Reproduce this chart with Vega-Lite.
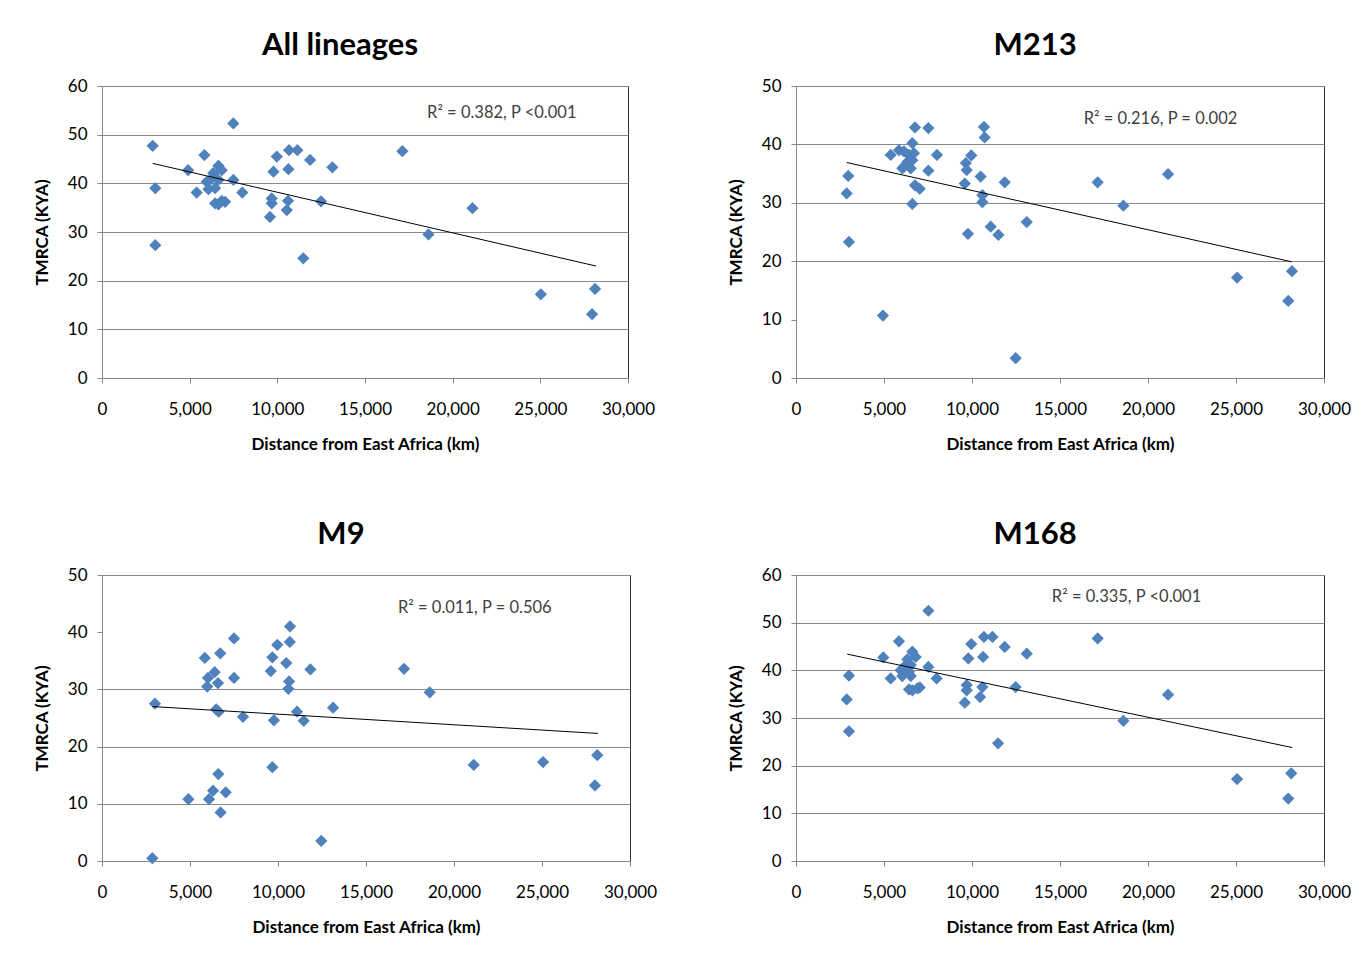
{
  "$schema": "https://vega.github.io/schema/vega-lite/v6.json",
  "background": "white",
  "padding": {"left": 32, "top": 29, "right": 5, "bottom": 5},
  "datasets": {
    "all": [
      {"distance": 2890, "tmrca": 47.7}, {"distance": 3040, "tmrca": 39.0}, {"distance": 3040, "tmrca": 27.3},
      {"distance": 7490, "tmrca": 52.3}, {"distance": 5840, "tmrca": 45.8}, {"distance": 4910, "tmrca": 42.7},
      {"distance": 5400, "tmrca": 38.1}, {"distance": 6640, "tmrca": 43.6}, {"distance": 6830, "tmrca": 42.7},
      {"distance": 6350, "tmrca": 42.1}, {"distance": 6160, "tmrca": 40.7}, {"distance": 5970, "tmrca": 40.3},
      {"distance": 6640, "tmrca": 40.7}, {"distance": 6070, "tmrca": 38.8}, {"distance": 6450, "tmrca": 39.0},
      {"distance": 7490, "tmrca": 40.7}, {"distance": 8000, "tmrca": 38.1}, {"distance": 6450, "tmrca": 35.9},
      {"distance": 6830, "tmrca": 36.4}, {"distance": 7020, "tmrca": 36.2}, {"distance": 6640, "tmrca": 35.7},
      {"distance": 9970, "tmrca": 45.5}, {"distance": 9780, "tmrca": 42.4}, {"distance": 10670, "tmrca": 46.8},
      {"distance": 11140, "tmrca": 46.8}, {"distance": 11870, "tmrca": 44.8}, {"distance": 10630, "tmrca": 42.9},
      {"distance": 13140, "tmrca": 43.3}, {"distance": 9680, "tmrca": 36.9}, {"distance": 9680, "tmrca": 35.9},
      {"distance": 9580, "tmrca": 33.1}, {"distance": 10610, "tmrca": 36.4}, {"distance": 10540, "tmrca": 34.5},
      {"distance": 12490, "tmrca": 36.3}, {"distance": 11480, "tmrca": 24.6}, {"distance": 17130, "tmrca": 46.6},
      {"distance": 21130, "tmrca": 34.9}, {"distance": 18620, "tmrca": 29.5}, {"distance": 25030, "tmrca": 17.2},
      {"distance": 28120, "tmrca": 18.3}, {"distance": 27950, "tmrca": 13.1}
    ],
    "m213": [
      {"distance": 6760, "tmrca": 42.9}, {"distance": 7520, "tmrca": 42.8}, {"distance": 10680, "tmrca": 43.0},
      {"distance": 10720, "tmrca": 41.2}, {"distance": 6610, "tmrca": 40.2}, {"distance": 5380, "tmrca": 38.2},
      {"distance": 5850, "tmrca": 39.0}, {"distance": 6140, "tmrca": 38.8}, {"distance": 6420, "tmrca": 38.2},
      {"distance": 6700, "tmrca": 38.5}, {"distance": 6140, "tmrca": 36.2}, {"distance": 6520, "tmrca": 35.9},
      {"distance": 6040, "tmrca": 35.9}, {"distance": 6330, "tmrca": 37.0}, {"distance": 6610, "tmrca": 37.3},
      {"distance": 8010, "tmrca": 38.2}, {"distance": 7520, "tmrca": 35.5}, {"distance": 6760, "tmrca": 33.0},
      {"distance": 7030, "tmrca": 32.4}, {"distance": 6610, "tmrca": 29.8}, {"distance": 2970, "tmrca": 34.6},
      {"distance": 2880, "tmrca": 31.6}, {"distance": 3010, "tmrca": 23.3}, {"distance": 4940, "tmrca": 10.7},
      {"distance": 9960, "tmrca": 38.1}, {"distance": 9650, "tmrca": 36.8}, {"distance": 9700, "tmrca": 35.6},
      {"distance": 9590, "tmrca": 33.3}, {"distance": 10490, "tmrca": 34.5}, {"distance": 10590, "tmrca": 31.3},
      {"distance": 10590, "tmrca": 30.1}, {"distance": 11860, "tmrca": 33.5}, {"distance": 9770, "tmrca": 24.7},
      {"distance": 11060, "tmrca": 25.9}, {"distance": 11500, "tmrca": 24.5}, {"distance": 13110, "tmrca": 26.7},
      {"distance": 12480, "tmrca": 3.4}, {"distance": 17140, "tmrca": 33.5}, {"distance": 21140, "tmrca": 34.9},
      {"distance": 18600, "tmrca": 29.5}, {"distance": 25060, "tmrca": 17.2}, {"distance": 28180, "tmrca": 18.3},
      {"distance": 27970, "tmrca": 13.2}
    ],
    "m9": [
      {"distance": 3010, "tmrca": 27.5}, {"distance": 2860, "tmrca": 0.5}, {"distance": 4910, "tmrca": 10.8},
      {"distance": 5840, "tmrca": 35.5}, {"distance": 6720, "tmrca": 36.3}, {"distance": 7500, "tmrca": 38.9},
      {"distance": 6400, "tmrca": 33.0}, {"distance": 6020, "tmrca": 32.0}, {"distance": 6590, "tmrca": 31.1},
      {"distance": 5980, "tmrca": 30.5}, {"distance": 7500, "tmrca": 32.0}, {"distance": 6490, "tmrca": 26.5},
      {"distance": 6630, "tmrca": 26.1}, {"distance": 8010, "tmrca": 25.2}, {"distance": 6610, "tmrca": 15.2},
      {"distance": 6310, "tmrca": 12.3}, {"distance": 7030, "tmrca": 12.0}, {"distance": 6080, "tmrca": 10.8},
      {"distance": 6740, "tmrca": 8.5}, {"distance": 10680, "tmrca": 41.0}, {"distance": 9960, "tmrca": 37.8},
      {"distance": 10670, "tmrca": 38.3}, {"distance": 9680, "tmrca": 35.6}, {"distance": 10470, "tmrca": 34.6},
      {"distance": 9590, "tmrca": 33.2}, {"distance": 10630, "tmrca": 31.4}, {"distance": 10590, "tmrca": 30.1},
      {"distance": 11840, "tmrca": 33.5}, {"distance": 9770, "tmrca": 24.6}, {"distance": 11080, "tmrca": 26.1},
      {"distance": 11460, "tmrca": 24.5}, {"distance": 13130, "tmrca": 26.8}, {"distance": 9680, "tmrca": 16.4},
      {"distance": 12460, "tmrca": 3.5}, {"distance": 17160, "tmrca": 33.6}, {"distance": 18620, "tmrca": 29.5},
      {"distance": 21120, "tmrca": 16.8}, {"distance": 25060, "tmrca": 17.3}, {"distance": 28140, "tmrca": 18.5},
      {"distance": 28010, "tmrca": 13.2}
    ],
    "m168": [
      {"distance": 7520, "tmrca": 52.5}, {"distance": 5850, "tmrca": 46.1}, {"distance": 4960, "tmrca": 42.7},
      {"distance": 3010, "tmrca": 38.9}, {"distance": 2880, "tmrca": 33.9}, {"distance": 3010, "tmrca": 27.2},
      {"distance": 5380, "tmrca": 38.3}, {"distance": 6610, "tmrca": 43.9}, {"distance": 6800, "tmrca": 42.8},
      {"distance": 6330, "tmrca": 42.3}, {"distance": 6140, "tmrca": 40.7}, {"distance": 6520, "tmrca": 41.1},
      {"distance": 5950, "tmrca": 40.0}, {"distance": 6040, "tmrca": 38.8}, {"distance": 6520, "tmrca": 38.8},
      {"distance": 6420, "tmrca": 39.7}, {"distance": 7520, "tmrca": 40.7}, {"distance": 7990, "tmrca": 38.3},
      {"distance": 6420, "tmrca": 36.0}, {"distance": 6610, "tmrca": 35.8}, {"distance": 7030, "tmrca": 36.4},
      {"distance": 6890, "tmrca": 36.2}, {"distance": 9960, "tmrca": 45.5}, {"distance": 10680, "tmrca": 47.0},
      {"distance": 11160, "tmrca": 47.0}, {"distance": 11860, "tmrca": 44.9}, {"distance": 9790, "tmrca": 42.5},
      {"distance": 10630, "tmrca": 42.8}, {"distance": 13110, "tmrca": 43.5}, {"distance": 9700, "tmrca": 36.9},
      {"distance": 9700, "tmrca": 35.8}, {"distance": 9590, "tmrca": 33.2}, {"distance": 10590, "tmrca": 36.5},
      {"distance": 10460, "tmrca": 34.4}, {"distance": 12480, "tmrca": 36.5}, {"distance": 11480, "tmrca": 24.7},
      {"distance": 17140, "tmrca": 46.7}, {"distance": 21140, "tmrca": 34.9}, {"distance": 18600, "tmrca": 29.4},
      {"distance": 25060, "tmrca": 17.2}, {"distance": 28140, "tmrca": 18.4}, {"distance": 27970, "tmrca": 13.1}
    ],
    "all_trend": [{"distance": 2890, "tmrca": 44.1}, {"distance": 28180, "tmrca": 23.0}],
    "m213_trend": [{"distance": 2880, "tmrca": 36.9}, {"distance": 28160, "tmrca": 19.9}],
    "m9_trend": [{"distance": 2860, "tmrca": 27.0}, {"distance": 28180, "tmrca": 22.3}],
    "m168_trend": [{"distance": 2910, "tmrca": 43.4}, {"distance": 28200, "tmrca": 23.8}],
    "all_stat": [{"label": "R² = 0.382, P <0.001"}],
    "m213_stat": [{"label": "R² = 0.216, P = 0.002"}],
    "m9_stat": [{"label": "R² = 0.011, P = 0.506"}],
    "m168_stat": [{"label": "R² = 0.335, P <0.001"}]
  },
  "columns": 2,
  "spacing": {"row": 65, "column": 68},
  "concat": [
    {
      "title": {"text": "All lineages", "dx": -25},
      "width": 526, "height": 292,
      "layer": [
        {
          "data": {"name": "all"},
          "mark": {"type": "point", "shape": "diamond", "filled": true, "size": 150, "color": "#4F81BD", "opacity": 1},
          "encoding": {
            "x": {"field": "distance", "type": "quantitative", "scale": {"domain": [0, 30000], "nice": false}, "axis": {"values": [0, 5000, 10000, 15000, 20000, 25000, 30000], "labelExpr": "format(datum.value, ',')", "grid": false, "title": "Distance from East Africa (km)"}},
            "y": {"field": "tmrca", "type": "quantitative", "scale": {"domain": [0, 60], "nice": false}, "axis": {"values": [0, 10, 20, 30, 40, 50, 60], "title": "TMRCA (KYA)"}}
          }
        },
        {
          "data": {"name": "all_trend"},
          "mark": {"type": "line", "color": "black", "strokeWidth": 1},
          "encoding": {"x": {"field": "distance", "type": "quantitative"}, "y": {"field": "tmrca", "type": "quantitative"}}
        },
        {
          "data": {"name": "all_stat"},
          "mark": {"type": "text", "fontSize": 16.5, "color": "#404040"},
          "encoding": {"x": {"datum": 22800, "type": "quantitative"}, "y": {"datum": 54.5, "type": "quantitative"}, "text": {"field": "label"}}
        }
      ]
    },
    {
      "title": {"text": "M213", "dx": -25},
      "width": 528, "height": 292,
      "layer": [
        {
          "data": {"name": "m213"},
          "mark": {"type": "point", "shape": "diamond", "filled": true, "size": 150, "color": "#4F81BD", "opacity": 1},
          "encoding": {
            "x": {"field": "distance", "type": "quantitative", "scale": {"domain": [0, 30000], "nice": false}, "axis": {"values": [0, 5000, 10000, 15000, 20000, 25000, 30000], "labelExpr": "format(datum.value, ',')", "grid": false, "title": "Distance from East Africa (km)"}},
            "y": {"field": "tmrca", "type": "quantitative", "scale": {"domain": [0, 50], "nice": false}, "axis": {"values": [0, 10, 20, 30, 40, 50], "title": "TMRCA (KYA)", "gridOpacity": {"condition": {"test": "datum.value === 10", "value": 0}, "value": 1}}}
          }
        },
        {
          "data": {"name": "m213_trend"},
          "mark": {"type": "line", "color": "black", "strokeWidth": 1},
          "encoding": {"x": {"field": "distance", "type": "quantitative"}, "y": {"field": "tmrca", "type": "quantitative"}}
        },
        {
          "data": {"name": "m213_stat"},
          "mark": {"type": "text", "fontSize": 16.5, "color": "#404040"},
          "encoding": {"x": {"datum": 20710, "type": "quantitative"}, "y": {"datum": 44.3, "type": "quantitative"}, "text": {"field": "label"}}
        }
      ]
    },
    {
      "title": {"text": "M9", "dx": -25},
      "width": 528, "height": 286,
      "layer": [
        {
          "data": {"name": "m9"},
          "mark": {"type": "point", "shape": "diamond", "filled": true, "size": 150, "color": "#4F81BD", "opacity": 1},
          "encoding": {
            "x": {"field": "distance", "type": "quantitative", "scale": {"domain": [0, 30000], "nice": false}, "axis": {"values": [0, 5000, 10000, 15000, 20000, 25000, 30000], "labelExpr": "format(datum.value, ',')", "grid": false, "title": "Distance from East Africa (km)"}},
            "y": {"field": "tmrca", "type": "quantitative", "scale": {"domain": [0, 50], "nice": false}, "axis": {"values": [0, 10, 20, 30, 40, 50], "title": "TMRCA (KYA)", "gridOpacity": {"condition": {"test": "datum.value === 40", "value": 0}, "value": 1}}}
          }
        },
        {
          "data": {"name": "m9_trend"},
          "mark": {"type": "line", "color": "black", "strokeWidth": 1},
          "encoding": {"x": {"field": "distance", "type": "quantitative"}, "y": {"field": "tmrca", "type": "quantitative"}}
        },
        {
          "data": {"name": "m9_stat"},
          "mark": {"type": "text", "fontSize": 16.5, "color": "#404040"},
          "encoding": {"x": {"datum": 21180, "type": "quantitative"}, "y": {"datum": 44.2, "type": "quantitative"}, "text": {"field": "label"}}
        }
      ]
    },
    {
      "title": {"text": "M168", "dx": -25},
      "width": 528, "height": 286,
      "layer": [
        {
          "data": {"name": "m168"},
          "mark": {"type": "point", "shape": "diamond", "filled": true, "size": 150, "color": "#4F81BD", "opacity": 1},
          "encoding": {
            "x": {"field": "distance", "type": "quantitative", "scale": {"domain": [0, 30000], "nice": false}, "axis": {"values": [0, 5000, 10000, 15000, 20000, 25000, 30000], "labelExpr": "format(datum.value, ',')", "grid": false, "title": "Distance from East Africa (km)"}},
            "y": {"field": "tmrca", "type": "quantitative", "scale": {"domain": [0, 60], "nice": false}, "axis": {"values": [0, 10, 20, 30, 40, 50, 60], "title": "TMRCA (KYA)"}}
          }
        },
        {
          "data": {"name": "m168_trend"},
          "mark": {"type": "line", "color": "black", "strokeWidth": 1},
          "encoding": {"x": {"field": "distance", "type": "quantitative"}, "y": {"field": "tmrca", "type": "quantitative"}}
        },
        {
          "data": {"name": "m168_stat"},
          "mark": {"type": "text", "fontSize": 16.5, "color": "#404040"},
          "encoding": {"x": {"datum": 18780, "type": "quantitative"}, "y": {"datum": 55.4, "type": "quantitative"}, "text": {"field": "label"}}
        }
      ]
    }
  ],
  "config": {
    "font": "Lato",
    "view": {"stroke": "#333333", "strokeWidth": 1},
    "axis": {
      "domainColor": "#888888", "tickColor": "#888888", "gridColor": "#888888", "gridWidth": 1,
      "labelColor": "#000000", "labelFont": "Lato", "labelFontSize": 17, "labelPadding": 10,
      "titleFont": "Lato", "titleFontSize": 17, "titleFontWeight": "bold", "titleColor": "#000000",
      "tickSize": 5, "labelFlush": false
    },
    "axisX": {"labelPadding": 18, "titlePadding": 19},
    "axisY": {"titlePadding": 16},
    "title": {"font": "Lato", "fontSize": 31, "fontWeight": "bold", "color": "#000000", "offset": 15, "anchor": "middle"}
  }
}
